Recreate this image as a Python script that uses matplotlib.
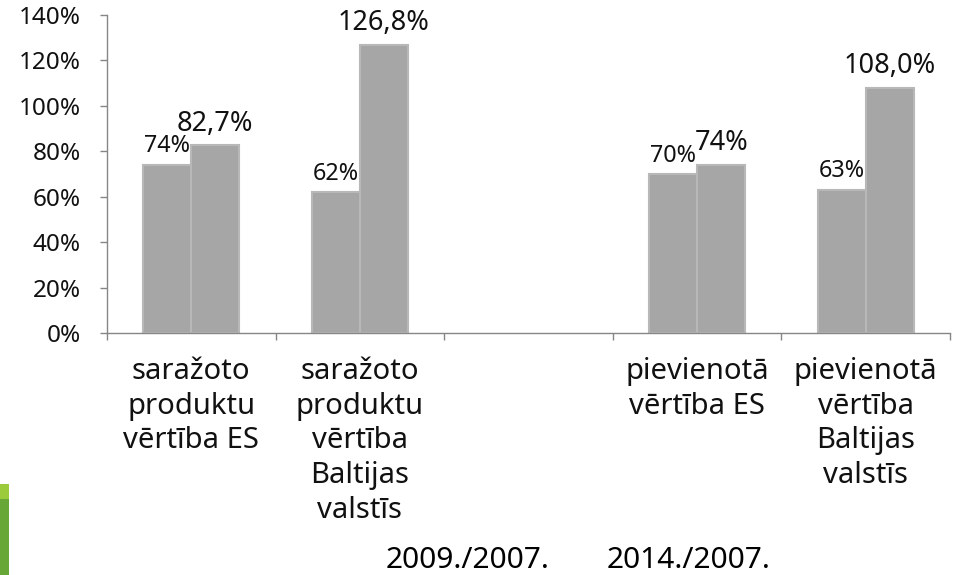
import numpy as np
import matplotlib
matplotlib.use("Agg")
import matplotlib.pyplot as plt
from matplotlib.patches import Rectangle

plt.rcParams['font.family'] = ['Noto Sans', 'DejaVu Sans']

categories = [
    "saražoto\nproduktu\nvērtība ES",
    "saražoto\nproduktu\nvērtība\nBaltijas\nvalstīs",
    "",
    "pievienotā\nvērtība ES",
    "pievienotā\nvērtība\nBaltijas\nvalstīs",
]
series_names = ["2009./2007.", "2014./2007."]
values_2009 = [74.0, 62.0, np.nan, 70.0, 63.0]
values_2014 = [82.7, 126.8, np.nan, 74.0, 108.0]
labels_2009 = ["74%", "62%", "", "70%", "63%"]
labels_2014 = ["82,7%", "126,8%", "", "74%", "108,0%"]
yticks = [0, 20, 40, 60, 80, 100, 120, 140]
ytick_labels = ["0%", "20%", "40%", "60%", "80%", "100%", "120%", "140%"]

W, H = 962, 575
fig = plt.figure(figsize=(W / 100, H / 100), dpi=100)
ax = fig.add_axes([107 / W, 1 - 333 / H, (950 - 107) / W, (333 - 15) / H])

x = np.arange(len(categories))
bw = 0.285
bar_color = "#a6a6a6"
b1 = ax.bar(x - bw / 2, values_2009, bw, color=bar_color, edgecolor="#b8b8b8",
            linewidth=1.5, label=series_names[0])
b2 = ax.bar(x + bw / 2, values_2014, bw, color=bar_color, edgecolor="#b8b8b8",
            linewidth=1.5, label=series_names[1])

for xi, v, t in zip(x, values_2009, labels_2009):
    if not np.isnan(v):
        ax.annotate(t, (xi - bw / 2, v), xytext=(0, 9), textcoords="offset points",
                    ha="center", va="baseline", fontsize=16.8, color="#111111")
for xi, v, t in zip(x, values_2014, labels_2014):
    if not np.isnan(v):
        ax.annotate(t, (xi + bw / 2, v), xytext=(0, 10.5), textcoords="offset points",
                    ha="center", va="baseline", fontsize=19.5, color="#111111")

ax.set_xlim(-0.5, len(categories) - 0.5)
ax.set_ylim(0, 140)
ax.set_yticks(yticks)
ax.set_yticklabels(ytick_labels, fontsize=17.5, color="#111111")
ax.set_xticks(x)
ax.set_xticklabels(categories, fontsize=21, color="#111111", linespacing=1.27)
ax.set_xticks(np.arange(-0.5, len(categories)), minor=True)
ax.tick_params(axis="x", which="major", length=0, pad=17)
ax.tick_params(axis="x", which="minor", length=5, color="#868686", width=1)
ax.tick_params(axis="y", length=5, color="#868686", width=1, pad=14)

for s in ["top", "right"]:
    ax.spines[s].set_visible(False)
for s in ["left", "bottom"]:
    ax.spines[s].set_color("#868686")
    ax.spines[s].set_linewidth(1)

leg = fig.legend(handles=[b1, b2], labels=series_names, loc="center",
                 bbox_to_anchor=(578 / W, 1 - 560 / H), ncol=2, frameon=False,
                 handlelength=0, handletextpad=0, columnspacing=1.9, fontsize=21.5,
                 borderpad=0.1)
for h in leg.legend_handles:
    h.set_visible(False)

# slide decoration at bottom-left
fig.add_artist(Rectangle((0, 1 - 499 / H), 9 / W, 15 / H, transform=fig.transFigure,
                         color="#9bcb3b", linewidth=0))
fig.add_artist(Rectangle((0, 0), 9 / W, 1 - 499 / H, transform=fig.transFigure,
                         color="#66a737", linewidth=0))

fig.savefig("out.png", dpi=100)
